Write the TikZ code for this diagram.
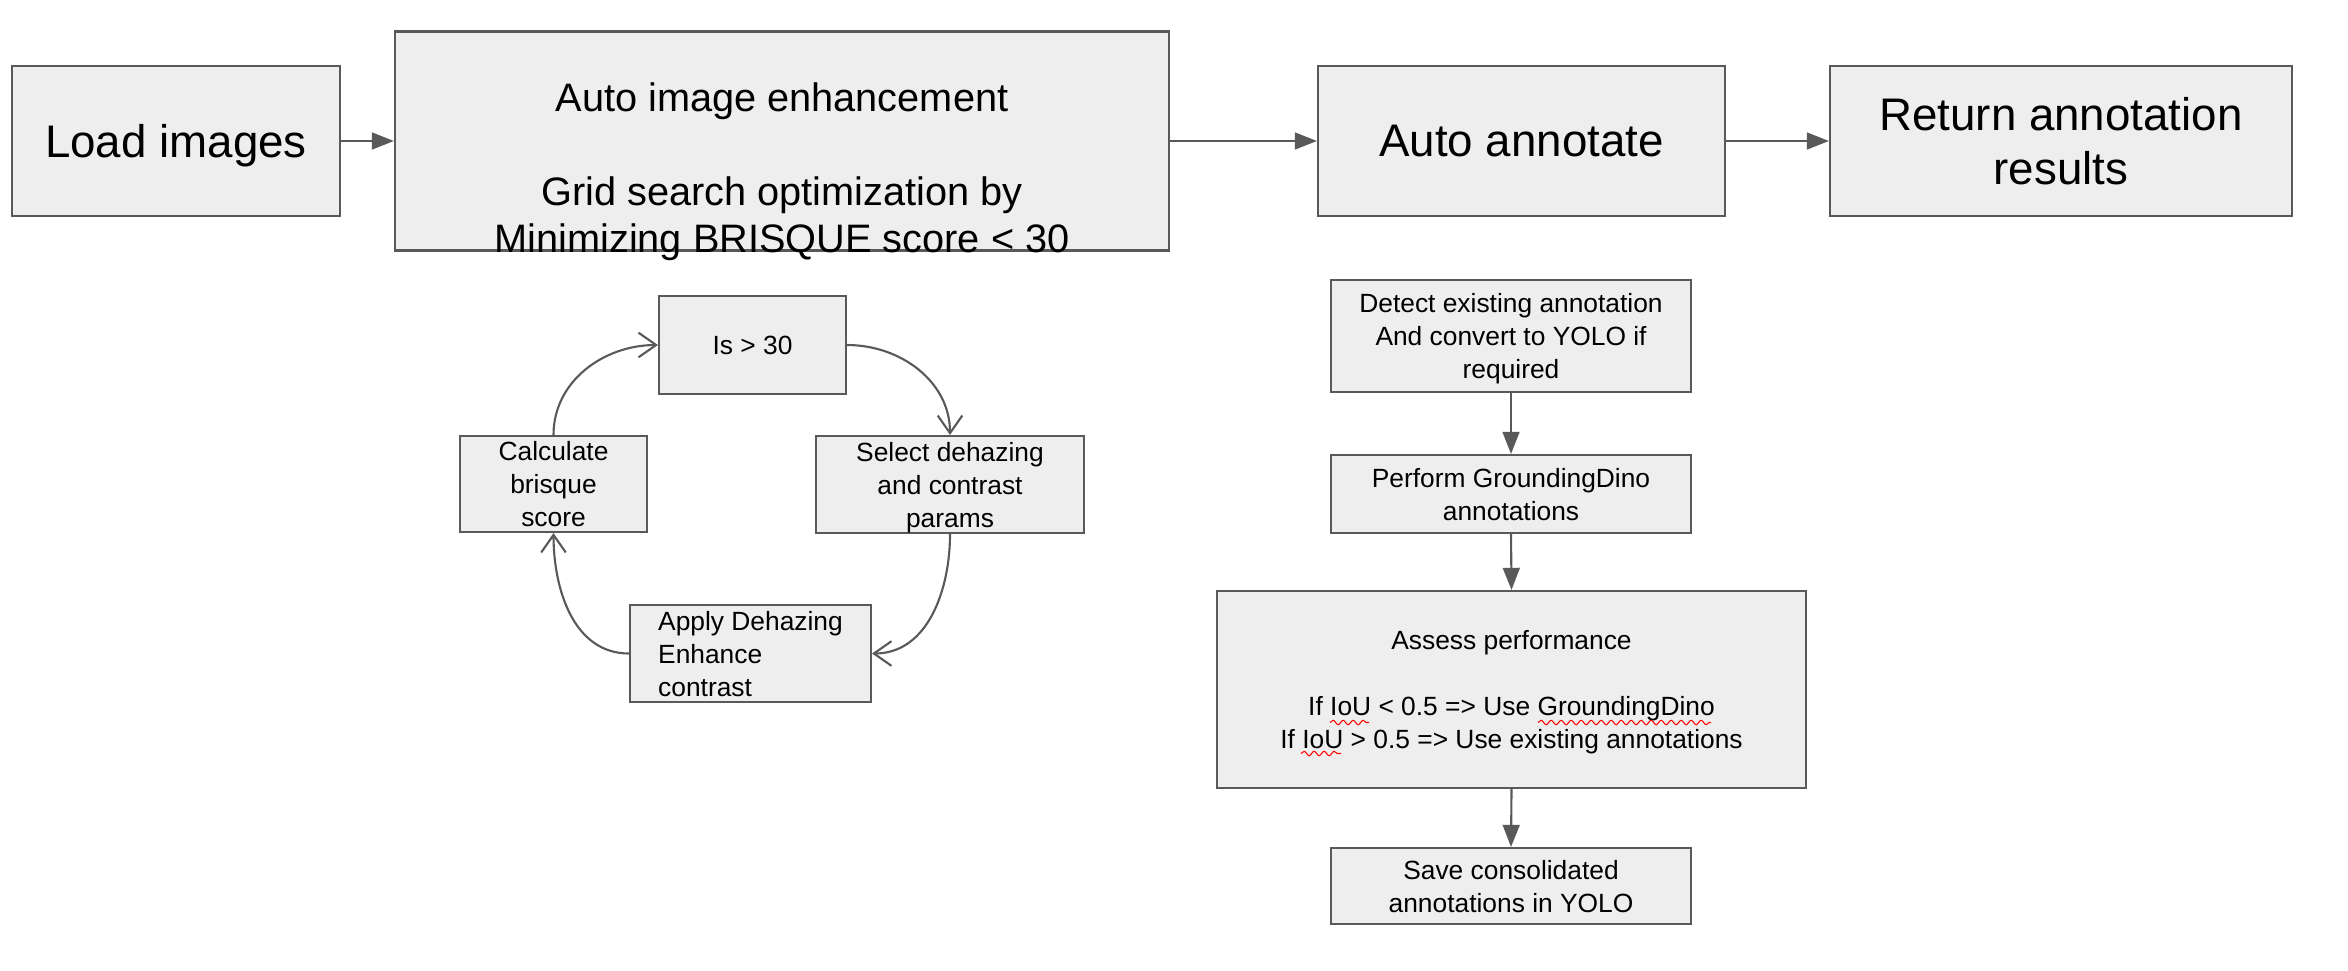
\documentclass[tikz,border=0pt]{standalone}
\usepackage{fontspec}
\setmainfont{Liberation Sans}
\usetikzlibrary{arrows.meta,decorations.pathmorphing}
\definecolor{boxfill}{HTML}{EEEEEE}
\definecolor{boxline}{HTML}{595959}
\tikzset{box/.style = {shape=rectangle,draw=boxline,fill=boxfill,line width=0.6pt,inner sep=0pt,align=center}}
\tikzset{bigtext/.style = {font=\fontsize{13}{15.2}\selectfont,text depth=0pt}}
\tikzset{midtext/.style = {font=\fontsize{11.3}{13.4}\selectfont}}
\tikzset{smalltext/.style = {font=\fontsize{7.5}{9.4}\selectfont,text depth=0pt}}
\tikzset{edge/.style = {-{Triangle[length=6.3pt,width=4.8pt]},draw=boxline,line width=0.6pt}}
\tikzset{roundedge/.style = {-{Straight Barb[length=5pt,width=7pt]},draw=boxline,line width=0.6pt}}
\tikzset{spell/.style = {red,line width=0.3pt,decorate,decoration={snake,amplitude=0.22mm,segment length=1mm}}}

\begin{document}
\begin{tikzpicture}
\useasboundingbox (0,0) rectangle (23.48,-9.70);

\node[box,bigtext,minimum width=3.28cm,minimum height=1.50cm] (load) at (1.76,-1.41) {Load images};
\node[box,minimum width=7.74cm,minimum height=2.19cm] (enh) at (7.82,-1.41) {};
\node[midtext,align=center] (enhtext) at (7.82,-1.715) {Auto image enhancement\\[13.4pt]Grid search optimization by\\Minimizing BRISQUE score < 30};
\node[box,bigtext,minimum width=4.07cm,minimum height=1.50cm] (annot) at (15.215,-1.41) {Auto annotate};
\node[box,bigtext,minimum width=4.62cm,minimum height=1.50cm] (ret) at (20.61,-1.41) {Return annotation\\results};

\node[box,smalltext,minimum width=1.87cm,minimum height=0.98cm] (is) at (7.525,-3.45) {Is > 30};
\node[box,smalltext,minimum width=2.68cm,minimum height=0.97cm] (sel) at (9.50,-4.845) {Select dehazing\\and contrast\\params};
\node[box,smalltext,align=left,minimum width=2.41cm,minimum height=0.97cm] (apply) at (7.505,-6.535) {Apply Dehazing\\Enhance\\contrast};
\node[box,smalltext,minimum width=1.87cm,minimum height=0.96cm] (calc) at (5.535,-4.84) {Calculate\\brisque\\score};

\node[box,smalltext,minimum width=3.60cm,minimum height=1.12cm] (det) at (15.11,-3.36) {Detect existing annotation\\And convert to YOLO if\\required};
\node[box,smalltext,minimum width=3.60cm,minimum height=0.78cm] (perf) at (15.11,-4.94) {Perform GroundingDino\\annotations};
\node[box,smalltext,minimum width=5.89cm,minimum height=1.97cm] (assess) at (15.115,-6.895) {Assess performance\\[9.4pt]If IoU < 0.5 => Use GroundingDino\\If IoU > 0.5 => Use existing annotations};
\node[box,smalltext,minimum width=3.60cm,minimum height=0.76cm] (save) at (15.11,-8.86) {Save consolidated\\annotations in YOLO};

\draw[edge] (load.east) -- (enh.west);
\draw[edge] (enh.east) -- (annot.west);
\draw[edge] (annot.east) -- (ret.west);

\draw[roundedge] (is.east) to[out=0,in=90] (sel.north);
\draw[roundedge] (sel.south) to[out=-90,in=0] (apply.east);
\draw[roundedge] (apply.west) to[out=180,in=-90] (calc.south);
\draw[roundedge] (calc.north) to[out=90,in=180] (is.west);

\draw[edge] (det.south) -- (perf.north);
\draw[edge] (perf.south) -- (assess.north);
\draw[edge] (assess.south) -- (save.north);

\draw[spell] ([shift={(-1.815,-0.33)}]assess.center) -- ++(0.39,0);
\draw[spell] ([shift={(0.265,-0.33)}]assess.center) -- ++(1.73,0);
\draw[spell] ([shift={(-2.105,-0.64)}]assess.center) -- ++(0.40,0);

\end{tikzpicture}
\end{document}
